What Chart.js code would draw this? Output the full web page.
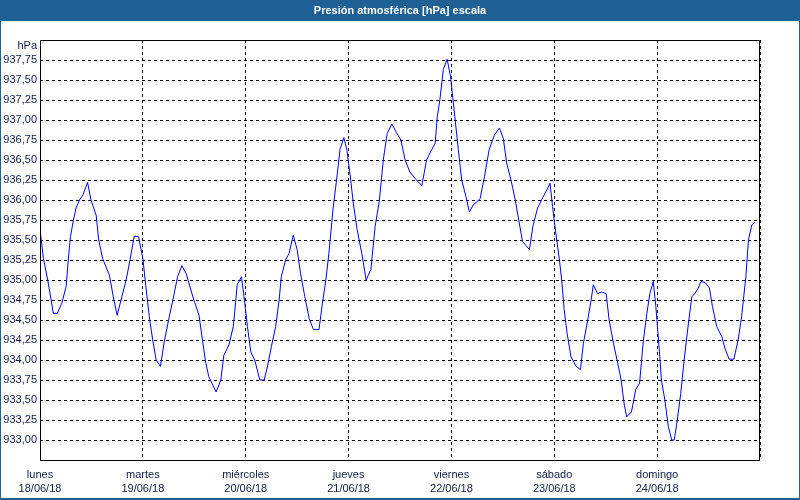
<!DOCTYPE html>
<html>
<head>
<meta charset="utf-8">
<script src="https://cdn.jsdelivr.net/npm/chart.js@4/dist/chart.umd.min.js"></script>
<style>
  html, body { margin: 0; padding: 0; background: #fff; }
  #wrap { width: 800px; height: 500px; position: relative; }
</style>
</head>
<body>
<div id="wrap"><canvas id="chart" width="800" height="500"></canvas></div>
<script>
const title = "Presión atmosférica [hPa] escala";
const dayNames = ["lunes", "martes", "miércoles", "jueves", "viernes", "sábado", "domingo"];
const dayDates = ["18/06/18", "19/06/18", "20/06/18", "21/06/18", "22/06/18", "23/06/18", "24/06/18"];

// hours since 18/06/18 00:00
const hours = [
  0, 0.8, 1.8, 2.6, 3.1, 4.0, 5.1, 6.1, 6.6, 7.1, 7.8, 8.4, 9.2, 10.0, 11.1, 11.9,
  13.1, 13.7, 14.6, 16.2, 17.1, 18.0, 19.1, 20.1, 21.0, 22.0, 23.0, 24.0, 24.7, 25.5,
  26.3, 27.1, 28.1, 29.0, 30.0, 31.0, 32.1, 33.1, 34.1, 35.9, 37.1, 37.9, 38.7, 39.4,
  41.1, 42.2, 42.9, 44.1, 45.1, 45.7, 46.0, 47.0, 47.6, 48.4, 49.2, 50.1, 51.3, 52.3,
  53.0, 54.0, 55.0, 55.8, 56.3, 57.3, 58.1, 59.1, 60.0, 60.8, 61.8, 62.8, 63.8, 65.1,
  65.9, 66.7, 67.4, 68.4, 69.2, 70.0, 70.9, 71.6, 72.5, 73.1, 74.0, 75.1, 76.1, 77.2,
  78.2, 79.2, 80.1, 81.0, 82.1, 83.2, 84.2, 85.2, 86.3, 87.5, 89.1, 90.2, 91.4, 92.2,
  92.7, 93.3, 94.1, 95.0, 95.8, 96.8, 97.6, 98.4, 99.4, 100.2, 101.1, 102.0, 102.7, 103.7,
  104.8, 106.0, 107.2, 108.1, 108.9, 109.9, 110.9, 111.7, 112.6, 113.4, 114.2, 115.0, 116.1, 117.3,
  118.5, 119.0, 119.6, 120.2, 121.2, 121.8, 122.3, 123.0, 123.9, 125.1, 126.1, 126.8, 127.8, 128.6,
  129.1, 130.1, 131.1, 132.1, 132.8, 133.8, 134.8, 135.6, 136.3, 136.9, 138.0, 139.0, 139.9, 140.8,
  141.6, 142.3, 143.1, 143.7, 144.5, 145.0, 145.8, 146.6, 147.4, 148.0, 148.7, 149.5, 150.3, 151.3,
  152.1, 152.8, 153.6, 154.2, 155.2, 156.2, 156.9, 157.9, 159.1, 159.8, 160.8, 161.9, 162.9, 163.7,
  164.7, 165.3, 166.1, 166.8
];

const pressure = [
  935.63, 935.27, 935.00, 934.75, 934.58, 934.58, 934.71, 934.92, 935.25, 935.54, 935.75, 935.90, 936.00, 936.06, 936.22, 936.00,
  935.81, 935.50, 935.27, 935.06, 934.79, 934.56, 934.79, 935.00, 935.25, 935.55, 935.54, 935.27, 934.92, 934.54,
  934.25, 934.00, 933.92, 934.23, 934.50, 934.75, 935.04, 935.18, 935.08, 934.75, 934.56, 934.25, 933.96, 933.79,
  933.60, 933.75, 934.06, 934.19, 934.42, 934.75, 934.94, 935.04, 934.79, 934.42, 934.10, 934.00, 933.75, 933.75,
  933.90, 934.17, 934.42, 934.75, 935.04, 935.25, 935.33, 935.56, 935.38, 935.08, 934.79, 934.52, 934.38, 934.38,
  934.71, 935.00, 935.33, 935.90, 936.25, 936.63, 936.78, 936.63, 936.25, 935.96, 935.63, 935.33, 935.00, 935.13,
  935.67, 936.00, 936.50, 936.83, 936.95, 936.84, 936.75, 936.50, 936.35, 936.27, 936.18, 936.50, 936.63, 936.71,
  937.04, 937.25, 937.63, 937.76, 937.54, 937.04, 936.63, 936.25, 936.04, 935.85, 935.94, 935.98, 936.02, 936.29,
  936.63, 936.81, 936.90, 936.77, 936.46, 936.25, 936.00, 935.75, 935.48, 935.43, 935.38, 935.67, 935.90, 936.03,
  936.15, 936.21, 935.92, 935.65, 935.25, 934.96, 934.63, 934.33, 934.04, 933.92, 933.88, 934.21, 934.50, 934.75,
  934.94, 934.83, 934.85, 934.83, 934.50, 934.21, 933.96, 933.75, 933.45, 933.29, 933.35, 933.63, 933.71, 934.25,
  934.58, 934.83, 934.98, 934.67, 934.13, 933.75, 933.50, 933.17, 933.00, 933.00, 933.25, 933.58, 934.00, 934.46,
  934.79, 934.83, 934.90, 934.98, 934.97, 934.90, 934.67, 934.42, 934.29, 934.15, 934.01, 934.01, 934.25, 934.54,
  935.04, 935.50, 935.69, 935.72
];

const yMin = 932.75;
const yMax = 938;
const yStep = 0.25;

const textColor = "#0f1f4a";
const barColor = "#1e5f94";

// background, title bar, frame and unit label
const decorPlugin = {
  id: "decor",
  beforeDraw(chart) {
    const ctx = chart.ctx;
    ctx.save();
    ctx.fillStyle = "#ffffff";
    ctx.fillRect(0, 0, chart.width, chart.height);
    ctx.fillStyle = barColor;
    ctx.fillRect(0, 0, chart.width, 21);
    ctx.fillStyle = "#ffffff";
    ctx.font = "bold 11px 'Liberation Sans', Arial, sans-serif";
    ctx.textAlign = "center";
    ctx.textBaseline = "middle";
    ctx.fillText(title, chart.width / 2, 11);
    ctx.restore();
  },
  afterDraw(chart) {
    const ctx = chart.ctx;
    const a = chart.chartArea;
    ctx.save();
    ctx.strokeStyle = "#000";
    ctx.lineWidth = 1;
    ctx.setLineDash([]);
    ctx.strokeRect(Math.round(a.left) + 0.5, Math.round(a.top) + 0.5,
      Math.round(a.right - a.left) - 1, Math.round(a.bottom - a.top));
    ctx.strokeStyle = barColor;
    ctx.strokeRect(0.5, 0.5, chart.width - 1, chart.height - 1);
    ctx.fillStyle = barColor;
    ctx.fillRect(0, chart.height - 2, chart.width, 2);
    ctx.fillStyle = textColor;
    ctx.font = "11px 'Liberation Sans', Arial, sans-serif";
    ctx.textAlign = "right";
    ctx.textBaseline = "middle";
    ctx.fillText("hPa", a.left - 3, a.top + 6);
    ctx.restore();
  }
};

new Chart(document.getElementById("chart"), {
  type: "line",
  data: {
    datasets: [{
      data: hours.map((h, i) => ({ x: h, y: pressure[i] })),
      borderColor: "#0000ff",
      borderWidth: 1,
      pointRadius: 0,
      tension: 0,
      fill: false
    }]
  },
  options: {
    responsive: false,
    animation: false,
    layout: { padding: { left: 0, right: 40, top: 40, bottom: 0 } },
    plugins: {
      legend: { display: false },
      title: { display: false },
      tooltip: { enabled: false }
    },
    scales: {
      x: {
        type: "linear",
        min: 0,
        max: 168,
        afterFit: (s) => { s.height = 40; },
        border: { display: false, dash: [3, 3] },
        grid: { color: "#000", drawTicks: false, lineWidth: 1 },
        ticks: {
          stepSize: 24,
          autoSkip: false,
          maxRotation: 0,
          padding: 8,
          color: textColor,
          font: { family: "'Liberation Sans', Arial, sans-serif", size: 11, lineHeight: 1.27 },
          callback: (v) => {
            const d = Math.round(v / 24);
            return d < dayNames.length ? [dayNames[d], dayDates[d]] : "";
          }
        }
      },
      y: {
        min: yMin,
        max: yMax,
        afterFit: (s) => { s.width = 40; },
        border: { display: false, dash: [3, 3] },
        grid: { color: "#000", drawTicks: false, lineWidth: 1 },
        ticks: {
          stepSize: yStep,
          autoSkip: false,
          padding: 3,
          color: textColor,
          font: { family: "'Liberation Sans', Arial, sans-serif", size: 11 },
          callback: (v) => (v <= yMin || v >= yMax) ? "" : v.toFixed(2).replace(".", ",")
        }
      }
    }
  },
  plugins: [decorPlugin]
});
</script>
</body>
</html>
